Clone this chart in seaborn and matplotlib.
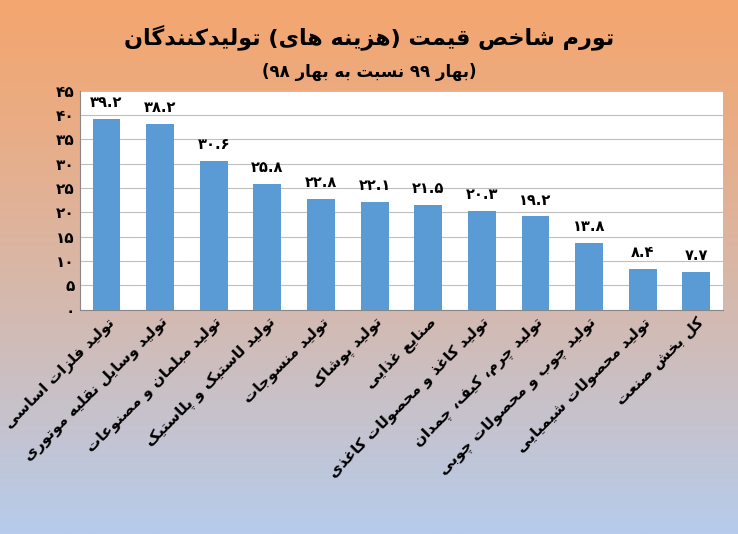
import re
import numpy as np
import pandas as pd
import matplotlib
matplotlib.use("Agg")
import matplotlib.pyplot as plt
import seaborn as sns

categories = ["تولید فلزات اساسی", "تولید وسایل نقلیه موتوری", "تولید مبلمان و مصنوعات",
              "تولید لاستیک و پلاستیک", "تولید منسوجات", "تولید پوشاک", "صنایع غذایی",
              "تولید کاغذ و محصولات کاغذی", "تولید چرم، کیف، چمدان",
              "تولید چوب و محصولات چوبی", "تولید محصولات شیمیایی", "کل بخش صنعت"]
values = [39.2, 38.2, 30.6, 25.8, 22.8, 22.1, 21.5, 20.3, 19.2, 13.8, 8.4, 7.7]
yticks = [0, 5, 10, 15, 20, 25, 30, 35, 40, 45]
title = "تورم شاخص قیمت (هزینه های) تولیدکنندگان"
subtitle = "(بهار ۹۹ نسبت به بهار ۹۸)"

FORMS = {
 'ا': (0xFE8D, 0xFE8E, None, None), 'آ': (0xFE81, 0xFE82, None, None),
 'ب': (0xFE8F, 0xFE90, 0xFE91, 0xFE92), 'پ': (0xFB56, 0xFB57, 0xFB58, 0xFB59),
 'ت': (0xFE95, 0xFE96, 0xFE97, 0xFE98), 'ث': (0xFE99, 0xFE9A, 0xFE9B, 0xFE9C),
 'ج': (0xFE9D, 0xFE9E, 0xFE9F, 0xFEA0), 'چ': (0xFB7A, 0xFB7B, 0xFB7C, 0xFB7D),
 'ح': (0xFEA1, 0xFEA2, 0xFEA3, 0xFEA4), 'خ': (0xFEA5, 0xFEA6, 0xFEA7, 0xFEA8),
 'د': (0xFEA9, 0xFEAA, None, None), 'ذ': (0xFEAB, 0xFEAC, None, None),
 'ر': (0xFEAD, 0xFEAE, None, None), 'ز': (0xFEAF, 0xFEB0, None, None),
 'ژ': (0xFB8A, 0xFB8B, None, None),
 'س': (0xFEB1, 0xFEB2, 0xFEB3, 0xFEB4), 'ش': (0xFEB5, 0xFEB6, 0xFEB7, 0xFEB8),
 'ص': (0xFEB9, 0xFEBA, 0xFEBB, 0xFEBC), 'ض': (0xFEBD, 0xFEBE, 0xFEBF, 0xFEC0),
 'ط': (0xFEC1, 0xFEC2, 0xFEC3, 0xFEC4), 'ظ': (0xFEC5, 0xFEC6, 0xFEC7, 0xFEC8),
 'ع': (0xFEC9, 0xFECA, 0xFECB, 0xFECC), 'غ': (0xFECD, 0xFECE, 0xFECF, 0xFED0),
 'ف': (0xFED1, 0xFED2, 0xFED3, 0xFED4), 'ق': (0xFED5, 0xFED6, 0xFED7, 0xFED8),
 'ک': (0xFB8E, 0xFB8F, 0xFB90, 0xFB91), 'گ': (0xFB92, 0xFB93, 0xFB94, 0xFB95),
 'ل': (0xFEDD, 0xFEDE, 0xFEDF, 0xFEE0), 'م': (0xFEE1, 0xFEE2, 0xFEE3, 0xFEE4),
 'ن': (0xFEE5, 0xFEE6, 0xFEE7, 0xFEE8), 'ه': (0xFEE9, 0xFEEA, 0xFEEB, 0xFEEC),
 'و': (0xFEED, 0xFEEE, None, None), 'ی': (0xFBFC, 0xFBFD, 0xFBFE, 0xFBFF),
 'ئ': (0xFE89, 0xFE8A, 0xFE8B, 0xFE8C),
}

def shape(s):
    out = []
    n = len(s)
    for i, c in enumerate(s):
        if c not in FORMS:
            out.append(c); continue
        iso, fin, ini, med = FORMS[c]
        prev = s[i-1] if i > 0 else None
        nxt = s[i+1] if i < n-1 else None
        jp = prev in FORMS and FORMS[prev][2] is not None
        jn = nxt in FORMS and ini is not None
        if jp and jn: out.append(chr(med))
        elif jp: out.append(chr(fin))
        elif jn: out.append(chr(ini))
        else: out.append(chr(iso))
    vis = ''.join(out)[::-1]
    vis = vis.translate(str.maketrans('()', ')('))
    vis = re.sub(r'[۰-۹0-9.]+', lambda m: m.group(0)[::-1], vis)
    return vis

def fa(num):
    return str(num).translate(str.maketrans('0123456789', '۰۱۲۳۴۵۶۷۸۹'))

plt.rcParams['font.family'] = ['DejaVu Sans']

fig = plt.figure(figsize=(7.38, 5.34), dpi=100)
bg = fig.add_axes([0, 0, 1, 1], zorder=-10)
top = np.array([244, 166, 112]) / 255
bot = np.array([182, 204, 236]) / 255
t = np.linspace(0, 1, 256)[:, None, None] ** 1.2
grad = top * (1 - t) + bot * t
grad = np.repeat(grad, 2, axis=1)
bg.imshow(grad, aspect='auto', extent=[0, 1, 0, 1])
bg.axis('off')

ax = fig.add_axes([0.108, 0.42, 0.872, 0.41])
df = pd.DataFrame({"cat": categories, "val": values})
sns.barplot(data=df, x="cat", y="val", color="#5B9BD5", width=0.52, ax=ax, saturation=1)
ax.set_ylim(0, 45)
ax.set_yticks(yticks)
ax.set_yticklabels([fa(v) for v in yticks], fontsize=11, fontweight='bold')
ax.set_xticks(range(len(categories)))
ax.set_xticklabels([shape(c) for c in categories], rotation=45, ha='right',
                   rotation_mode='anchor', fontsize=11, fontweight='bold')
ax.set_xlabel(""); ax.set_ylabel("")
ax.grid(axis='y', color='#BFBFBF', lw=0.8)
ax.set_axisbelow(True)
for s in ['top', 'right']:
    ax.spines[s].set_visible(False)
ax.spines['left'].set_color('#888888')
ax.spines['bottom'].set_color('#888888')
ax.tick_params(length=0)
for i, v in enumerate(values):
    ax.text(i, v + 1.8, fa(v), ha='center', va='bottom', fontsize=10.5, fontweight='bold')

fig.text(0.5, 0.93, shape(title), ha='center', va='center', fontsize=16, fontweight='bold')
fig.text(0.5, 0.865, shape(subtitle), ha='center', va='center', fontsize=12, fontweight='bold')

fig.savefig("out.png", dpi=100)
